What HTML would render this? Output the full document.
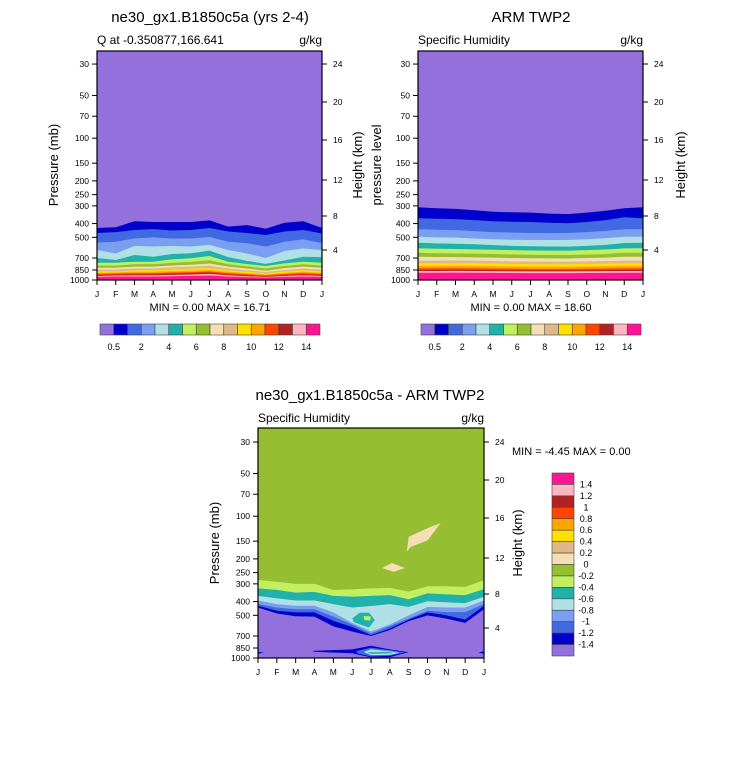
<!DOCTYPE html>
<html><head><meta charset="utf-8"><style>
body{margin:0;background:#fff;}
svg{display:block;font-family:"Liberation Sans",sans-serif;}
</style></head><body>
<svg id="fig" width="733" height="768" viewBox="0 0 733 768" xmlns="http://www.w3.org/2000/svg"></svg>
<script>
const months = ["J","F","M","A","M","J","J","A","S","O","N","D","J"];
const pressureTicks = [30,50,70,100,150,200,250,300,400,500,700,850,1000];
const heightTicks = [4,8,12,16,20,24];
const heightOffsets = [30,64,100,140,178,216];
const colors = ["#9370db","#0000cd","#4169e1","#7b9ff0","#b0e0e6","#20b2aa","#c0f060","#96be32","#f5deb3","#deb887","#ffe000","#ffa500","#ff4500","#b22222","#ffb6c1","#ff1493"];
const cbLabels1 = ["0.5","2","4","6","8","10","12","14"];
const cbLabels3 = ["1.4","1.2","1","0.8","0.6","0.4","0.2","0","-0.2","-0.4","-0.6","-0.8","-1","-1.2","-1.4"];

// Model Q: level boundary pressures (mb) per month, levels 0.5,1,2,...,14
const modelLevels = [
 [430,425,385,390,390,390,380,420,410,435,395,385,430],
 [466,460,444,438,448,444,430,455,466,482,455,444,470],
 [545,537,510,500,510,510,497,537,550,580,537,517,550],
 [614,650,575,580,575,580,565,614,650,700,625,600,614],
 [700,723,666,685,656,648,621,690,733,770,728,685,690],
 [755,755,743,743,715,703,677,743,771,797,763,743,755],
 [790,790,775,775,755,745,725,775,800,830,795,775,790],
 [820,820,805,805,790,780,765,805,830,860,825,805,820],
 [845,845,830,830,815,805,795,830,855,880,850,830,845],
 [870,870,855,855,845,835,825,855,875,900,870,855,870],
 [890,885,875,875,865,860,850,875,895,915,890,875,890],
 [905,900,895,895,885,880,870,895,910,930,905,895,905],
 [920,915,910,910,900,895,885,910,925,940,920,910,920],
 [935,930,925,925,920,915,905,925,940,950,935,925,935],
 [950,945,945,945,940,935,930,945,955,960,950,945,950]
];
// ARM TWP2
const armLevels = [
 [307,312,315,322,330,333,335,340,343,335,325,312,307],
 [367,370,372,378,385,388,390,395,398,390,378,361,367],
 [439,442,445,452,460,463,466,466,466,460,450,439,439],
 [495,500,502,510,516,520,522,522,522,516,508,495,495],
 [546,552,555,560,568,574,578,580,582,575,565,548,546],
 [597,602,604,608,612,616,620,621,621,616,610,598,597],
 [642,648,650,652,656,660,664,666,667,662,655,642,642],
 [685,688,690,692,696,700,703,704,705,700,695,685,685],
 [731,730,728,730,735,740,742,742,742,740,736,731,731],
 [762,762,760,762,765,770,772,772,772,770,766,762,762],
 [797,797,795,797,800,803,805,805,805,803,800,797,797],
 [827,827,825,827,830,832,834,834,834,832,830,827,827],
 [850,850,848,850,852,854,856,856,856,854,852,850,850],
 [864,864,862,864,866,868,870,870,870,868,866,864,864],
 [889,889,887,889,890,892,894,894,894,892,890,889,889]
];
// Difference: boundaries -0.2 .. -1.4
const diffLevels = [
 [282,290,300,300,331,328,323,320,340,312,312,315,283],
 [323,331,346,342,365,369,365,360,385,350,356,360,327],
 [365,380,393,393,417,440,430,417,436,398,405,410,370],
 [393,417,428,428,477,565,650,580,500,436,440,440,393],
 [417,440,453,453,511,580,670,595,528,464,475,475,417],
 [428,464,477,477,547,605,690,620,536,477,500,536,428],
 [440,485,508,511,598,650,700,635,550,500,528,565,453]
];
const diffColorIdx = [6,5,4,3,2,1,0];
const blobWheatUpper = [[7.9,178],[8.0,140],[9.1,120],[9.7,112],[9.0,148],[8.1,165]];
const blobWheatSmall = [[6.6,232],[7.1,214],[7.8,232],[7.2,247]];
const blobTealMid = [[5.0,525],[5.4,480],[5.9,480],[6.2,540],[5.9,610],[5.5,585],[5.1,560]];
const blobGreenMid = [[5.6,505],[6.0,510],[5.95,545],[5.65,540]];
const blobDarkLow = [[2.9,890],[5.0,870],[6.0,820],[7.0,870],[8.0,910],[7.0,985],[6.0,990],[5.0,925],[3.0,905]];
const blobBlueLow = [[5.2,895],[6.0,845],[7.0,880],[7.8,915],[7.0,965],[6.0,975],[5.3,930]];
const blobLightLow = [[5.6,905],[6.0,870],[7.0,895],[7.5,920],[7.0,950],[6.0,955]];
const blobTealLow = [[5.8,910],[7.0,905],[7.2,925],[6.0,935]];
const blobDarkEdgeL = [[0,905],[0.3,915],[0,935]];
const blobDarkEdgeR = [[12,895],[11.7,915],[12,935]];

const NS="http://www.w3.org/2000/svg";
const svg=document.getElementById('fig');
function mk(tag,attrs,parent){const e=document.createElementNS(NS,tag);for(const k in attrs)e.setAttribute(k,attrs[k]);(parent||svg).appendChild(e);return e;}
function txt(s,x,y,size,anchor,parent,rot){const t=mk('text',{x:x,y:y,'font-size':size,'text-anchor':anchor||'start',fill:'#000'},parent);if(rot)t.setAttribute('transform',`rotate(-90 ${x} ${y})`);t.textContent=s;return t;}

function panel(x0,x1,top,bottom,name){
  const g=mk('g',{});
  
  
  const sx=m=>x0+(x1-x0)*m/12;
  const sy=p=>bottom-141.8*Math.log10(1000/p);
  return {g,sx,sy,x0,x1,top,bottom};
}
function fillBelow(P,arr,color,name){
  let d=`M${P.sx(0)},${P.bottom}`;
  arr.forEach((p,i)=>{d+=` L${P.sx(i)},${Math.min(P.bottom,P.sy(p))}`;});
  d+=` L${P.sx(12)},${P.bottom} Z`;
  const e=mk('path',{d:d,fill:color},P.g);
  
  
}
function blob(P,pts,color,name){
  const d='M'+pts.map(q=>`${P.sx(q[0])},${P.sy(q[1])}`).join(' L')+' Z';
  const e=mk('path',{d:d,fill:color},P.g);
  
  
}
function axes(P){
  const ax=mk('g',{},P.g);
  
  
  mk('rect',{x:P.x0,y:P.top,width:P.x1-P.x0,height:P.bottom-P.top,fill:'none',stroke:'#000','stroke-width':1.2},ax);
  pressureTicks.forEach(p=>{const y=P.sy(p);mk('line',{x1:P.x0-5,x2:P.x0,y1:y,y2:y,stroke:'#000'},ax);
    const t=txt(String(p),P.x0-8,y+3,8.5,'end',ax);});
  heightTicks.forEach((h,i)=>{const y=P.bottom-heightOffsets[i];mk('line',{x1:P.x1,x2:P.x1+5,y1:y,y2:y,stroke:'#000'},ax);
    const t=txt(String(h),P.x1+11,y+3,8.5,'start',ax);});
  months.forEach((m,i)=>{const x=P.sx(i);mk('line',{x1:x,x2:x,y1:P.bottom,y2:P.bottom+5,stroke:'#000'},ax);
    const t=txt(m,x,P.bottom+17,8.5,'middle',ax);});
}

const P1=panel(97,322,51,280,'model-panel');
mk('rect',{x:97,y:51,width:225,height:229,fill:colors[0]},P1.g);
modelLevels.forEach((a,k)=>fillBelow(P1,a,colors[k+1],'band-'+(k+1)));
axes(P1);
const P2=panel(418,643,51,280,'arm-panel');
mk('rect',{x:418,y:51,width:225,height:229,fill:colors[0]},P2.g);
armLevels.forEach((a,k)=>fillBelow(P2,a,colors[k+1],'band-'+(k+1)));
axes(P2);
const P3=panel(258,484,428,658,'diff-panel');
mk('rect',{x:258,y:428,width:226,height:230,fill:colors[7]},P3.g);
diffLevels.forEach((a,k)=>fillBelow(P3,a,colors[diffColorIdx[k]],'diff-band-'+k));
blob(P3,blobWheatUpper,colors[8],'wheat-blob-upper');
blob(P3,blobWheatSmall,colors[8],'wheat-blob-small');
blob(P3,blobTealMid,colors[5],'teal-blob');
blob(P3,blobGreenMid,colors[6],'green-blob');
blob(P3,blobDarkLow,colors[1],'darkblue-blob-low');
blob(P3,blobBlueLow,colors[2],'blue-blob-low');
blob(P3,blobLightLow,colors[4],'lightblue-blob-low');
blob(P3,blobTealLow,colors[5],'teal-blob-low');
blob(P3,blobDarkEdgeL,colors[1],'edge-blob-left');
blob(P3,blobDarkEdgeR,colors[1],'edge-blob-right');
axes(P3);

function T(s,x,y,size,anchor,name,rot){const t=txt(s,x,y,size,anchor,svg,rot);}
T('ne30_gx1.B1850c5a (yrs 2-4)',210,22,15,'middle','title-model');
T('Q at -0.350877,166.641',97,44,12,'start','subtitle-model');
T('g/kg',322,44,12,'end','units-model');
T('MIN =   0.00 MAX =  16.71',210,311,11,'middle','minmax-model');
T('Pressure (mb)',58,165,13,'middle','y-axis-title-model',true);
T('Height (km)',362,165,13,'middle','height-axis-title-model',true);

T('ARM TWP2',531,22,15,'middle','title-arm');
T('Specific Humidity',418,44,12,'start','subtitle-arm');
T('g/kg',643,44,12,'end','units-arm');
T('MIN =   0.00 MAX =  18.60',531,311,11,'middle','minmax-arm');
T('pressure level',381,165,13,'middle','y-axis-title-arm',true);
T('Height (km)',685,165,13,'middle','height-axis-title-arm',true);

T('ne30_gx1.B1850c5a - ARM TWP2',370,400,15,'middle','title-diff');
T('Specific Humidity',258,422,12,'start','subtitle-diff');
T('g/kg',484,422,12,'end','units-diff');
T('MIN =  -4.45 MAX =   0.00',512,455,11,'start','minmax-diff');
T('Pressure (mb)',219,543,13,'middle','y-axis-title-diff',true);
T('Height (km)',522,543,13,'middle','height-axis-title-diff',true);

function hbar(x0,name){
  const g=mk('g',{});
  
  
  const w=220/16;
  colors.forEach((c,i)=>mk('rect',{x:x0+i*w,y:324,width:w,height:11,fill:c,stroke:'#444','stroke-width':0.6},g));
  cbLabels1.forEach((l,j)=>{const t=txt(l,x0+(2*j+1)*w,350,9,'middle',g);});
}
hbar(100,'colorbar-model');
hbar(421,'colorbar-arm');
(function(){
  const g=mk('g',{});
  
  
  const h=183/16;
  for(let i=0;i<16;i++){mk('rect',{x:552,y:473+i*h,width:22,height:h,fill:colors[15-i],stroke:'#444','stroke-width':0.6},g);}
  cbLabels3.forEach((l,j)=>{const t=txt(l,586,473+(j+1)*h+3,9,'middle',g);});
})();
</script>
</body></html>
